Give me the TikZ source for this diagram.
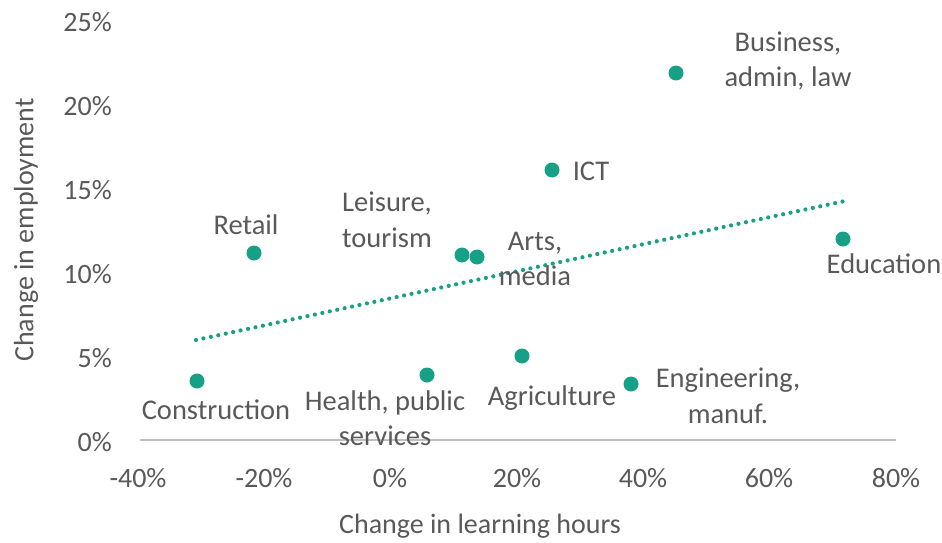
\documentclass[tikz,border=0pt]{standalone}
\usepackage{fontspec}
\setmainfont{Carlito}
\definecolor{teal}{RGB}{22,160,133}
\definecolor{txt}{RGB}{89,89,89}
\definecolor{axisgray}{RGB}{191,191,191}
\begin{document}
\begin{tikzpicture}[x=1pt,y=-1pt,
  lbl/.style={text=txt,font=\fontsize{28.5}{35.5}\selectfont,inner sep=0pt,align=center},
  tick/.style={text=txt,font=\fontsize{28}{32}\selectfont,inner sep=0pt},
  dot/.style={circle,fill=teal,minimum size=15pt,inner sep=0pt},
  trend/.style={teal,line width=4.2pt,line cap=round,dash pattern=on 0pt off 7.6pt}]
\useasboundingbox (0,0) rectangle (942,543);
% axis
\coordinate (ax0) at (140,440);
\coordinate (ax1) at (896,440);
\draw[axisgray,line width=1.6pt] (ax0) -- (ax1);
% y tick labels
\node[tick,anchor=east] (y25) at (112,22) {25\%};
\node[tick,anchor=east] (y20) at (112,106) {20\%};
\node[tick,anchor=east] (y15) at (112,190) {15\%};
\node[tick,anchor=east] (y10) at (112,274) {10\%};
\node[tick,anchor=east] (y5) at (112,358) {5\%};
\node[tick,anchor=east] (y0) at (112,442) {0\%};
% x tick labels
\node[tick] (xm40) at (138,478) {-40\%};
\node[tick] (xm20) at (264,478) {-20\%};
\node[tick] (x0) at (390,478) {0\%};
\node[tick] (x20) at (517,478) {20\%};
\node[tick] (x40) at (643,478) {40\%};
\node[tick] (x60) at (769,478) {60\%};
\node[tick] (x80) at (896,478) {80\%};
% axis titles
\node[tick] (xt) at (480,526) {Change in learning hours};
\node[tick,rotate=90] (yt) at (26,230) {Change in employment};
% trend line
\coordinate (t0) at (196,340);
\coordinate (t1) at (845,201);
\draw[trend] (t0) -- (t1);
% data points
\node[dot] (retail) at (254,253) {};
\node[dot] (constr) at (197,381) {};
\node[dot] (health) at (427,375) {};
\node[dot] (agri) at (522,356) {};
\node[dot] (eng) at (631,384) {};
\node[dot] (leis) at (462,255) {};
\node[dot] (arts) at (477,257) {};
\node[dot] (ict) at (552,170) {};
\node[dot] (bus) at (676,73) {};
\node[dot] (edu) at (843,239) {};
% labels
\node[lbl] (lretail) at (246,225) {Retail};
\node[lbl] (lconstr) at (216,410) {Construction};
\node[lbl] (lhealth) at (385,418) {Health, public\\services};
\node[lbl] (lagri) at (552,398) {Agriculture};
\node[lbl] (leng) at (728,396) {Engineering,\\manuf.};
\node[lbl] (lleis) at (387,220) {Leisure,\\tourism};
\node[lbl] (larts) at (535,259) {Arts,\\media};
\node[lbl] (lict) at (591,171) {ICT};
\node[lbl] (lbus) at (788,61) {Business,\\admin, law};
\node[lbl] (ledu) at (884,264) {Education};
\end{tikzpicture}
\end{document}
